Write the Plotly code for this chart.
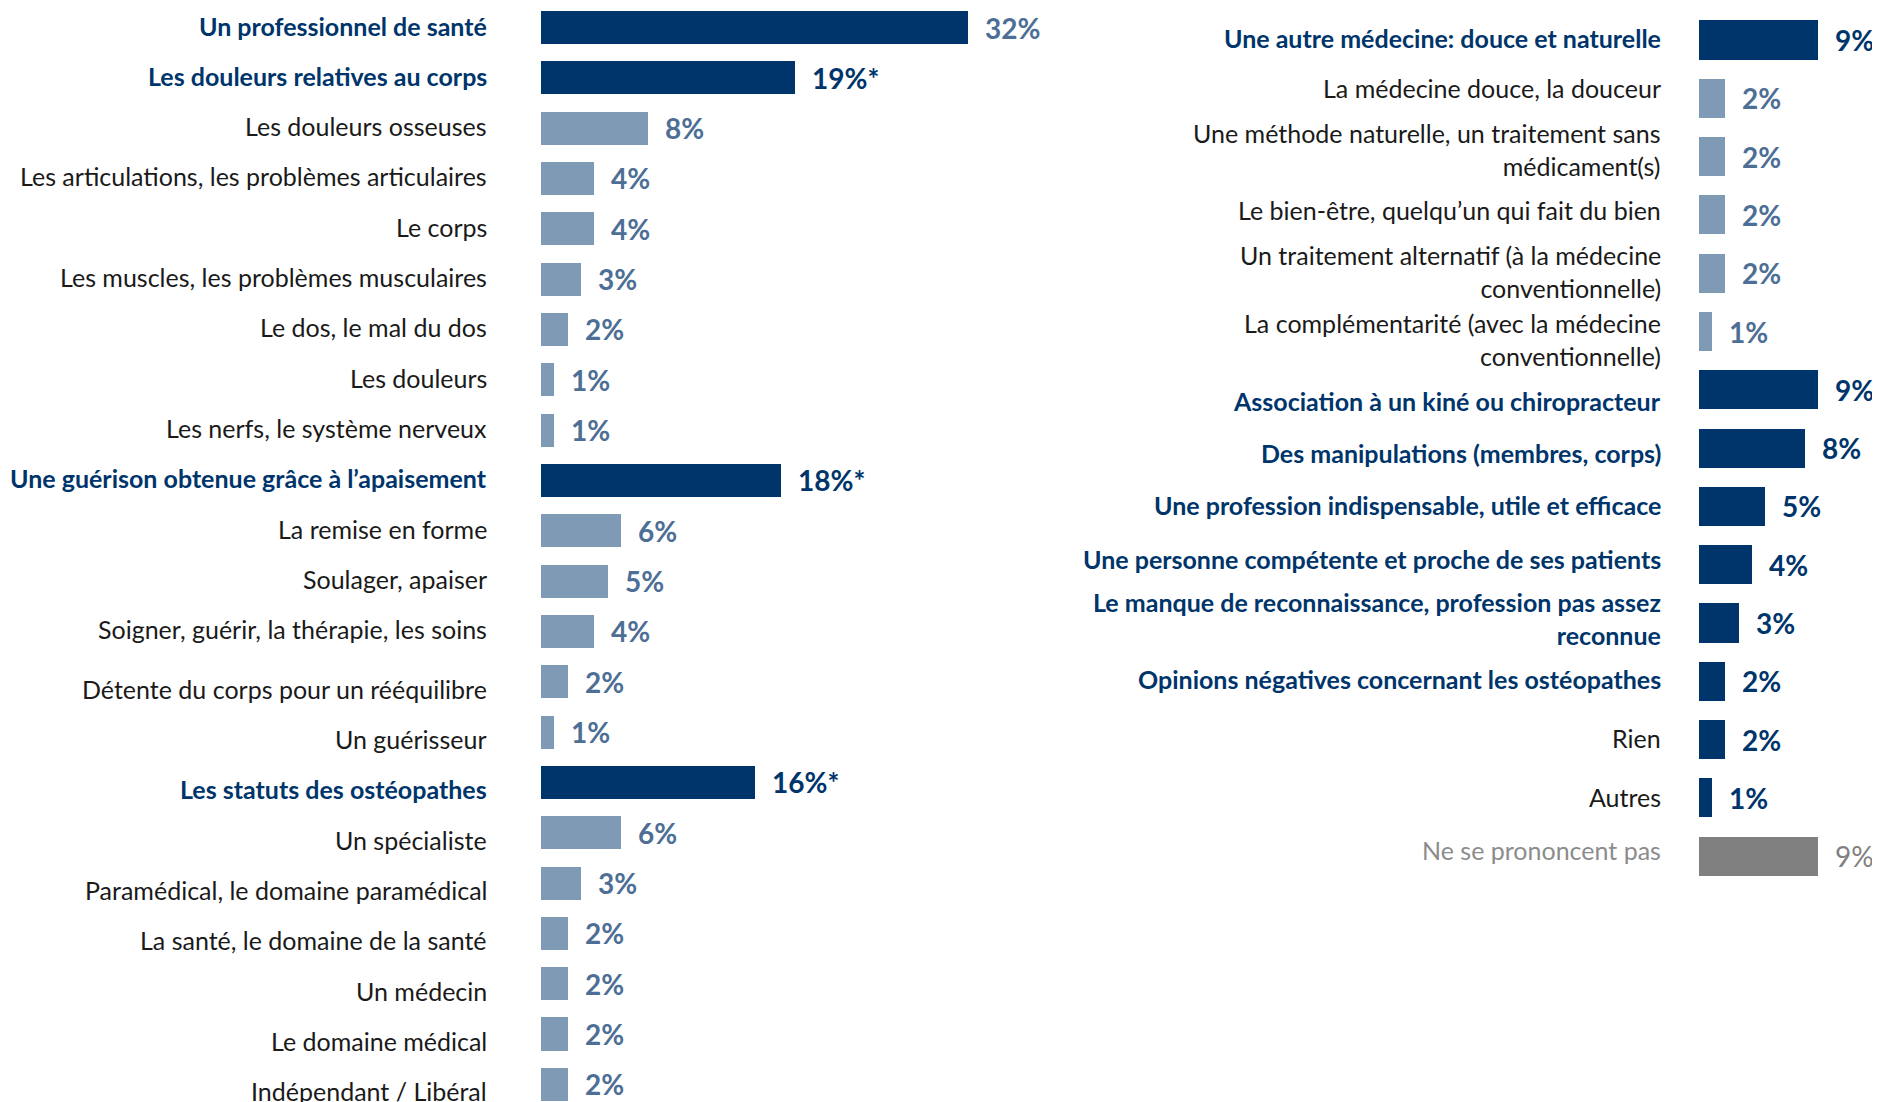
import plotly.graph_objects as go

# left panel
left_labels = [
    "Un professionnel de santé",
    "Les douleurs relatives au corps",
    "Les douleurs osseuses",
    "Les articulations, les problèmes articulaires",
    "Le corps",
    "Les muscles, les problèmes musculaires",
    "Le dos, le mal du dos",
    "Les douleurs",
    "Les nerfs, le système nerveux",
    "Une guérison obtenue grâce à l’apaisement",
    "La remise en forme",
    "Soulager, apaiser",
    "Soigner, guérir, la thérapie, les soins",
    "Détente du corps pour un rééquilibre",
    "Un guérisseur",
    "Les statuts des ostéopathes",
    "Un spécialiste",
    "Paramédical, le domaine paramédical",
    "La santé, le domaine de la santé",
    "Un médecin",
    "Le domaine médical",
    "Indépendant / Libéral",
]
left_values = [32, 19, 8, 4, 4, 3, 2, 1, 1, 18, 6, 5, 4, 2, 1, 16, 6, 3, 2, 2, 2, 2]
left_text = ["32%", "19%*", "8%", "4%", "4%", "3%", "2%", "1%", "1%", "18%*", "6%", "5%",
             "4%", "2%", "1%", "16%*", "6%", "3%", "2%", "2%", "2%", "2%"]
left_kind = ["main", "main", "sub", "sub", "sub", "sub", "sub", "sub", "sub", "main", "sub", "sub",
             "sub", "sub", "sub", "main", "sub", "sub", "sub", "sub", "sub", "sub"]

# right panel
right_labels = [
    "Une autre médecine: douce et naturelle",
    "La médecine douce, la douceur",
    "Une méthode naturelle, un traitement sans<br>médicament(s)",
    "Le bien-être, quelqu’un qui fait du bien",
    "Un traitement alternatif (à la médecine<br>conventionnelle)",
    "La complémentarité (avec la médecine<br>conventionnelle)",
    "Association à un kiné ou chiropracteur",
    "Des manipulations (membres, corps)",
    "Une profession indispensable, utile et efficace",
    "Une personne compétente et proche de ses patients",
    "Le manque de reconnaissance, profession pas assez<br>reconnue",
    "Opinions négatives concernant les ostéopathes",
    "Rien",
    "Autres",
    "Ne se prononcent pas",
]
right_values = [9, 2, 2, 2, 2, 1, 9, 8, 5, 4, 3, 2, 2, 1, 9]
right_text = ["9%", "2%", "2%", "2%", "2%", "1%", "9%", "8%", "5%", "4%", "3%", "2%", "2%", "1%", "9%"]
right_kind = ["main", "sub", "sub", "sub", "sub", "sub", "main", "main", "main", "main", "main", "main",
              "plain", "plain", "nsp"]

footnote = "* Score correspondant à un total logique de réponses"

# label nudges (px, + = down), as the labels sit in the original slide
left_dy = [-2] * 13 + [7] * 9
right_dy = [-2, -10, -7, -5, -2, 8, 11, 5, -1, -6, -5, -2, -2, -1, -6]

NAVY = "#00356B"
LIGHT = "#7F9AB5"
LIGHT_TXT = "#4D6E95"
GREY = "#808080"
BLACK = "#1a1a1a"

bar_col = {"main": NAVY, "sub": LIGHT, "plain": NAVY, "nsp": GREY}
val_col = {"main": NAVY, "sub": LIGHT_TXT, "plain": NAVY, "nsp": GREY}


def label_text(label, kind):
    if kind == "main":
        return "<b>%s</b>" % label
    return label


def label_col(kind):
    return {"main": NAVY, "nsp": "#8c8c8c"}.get(kind, BLACK)


fig = go.Figure()
fig.add_trace(go.Bar(
    x=left_values, y=left_labels, orientation="h",
    marker=dict(color=[bar_col[k] for k in left_kind], line=dict(width=0)),
    width=0.66, xaxis="x", yaxis="y", hoverinfo="skip",
))
fig.add_trace(go.Bar(
    x=right_values, y=right_labels, orientation="h",
    marker=dict(color=[bar_col[k] for k in right_kind], line=dict(width=0)),
    width=0.67, xaxis="x2", yaxis="y2", hoverinfo="skip",
))

ann = []
for v, lab, t, k, dy in zip(left_values, left_labels, left_text, left_kind, left_dy):
    c = LIGHT_TXT if t == "32%" else val_col[k]
    ann.append(dict(x=v, y=lab, xref="x", yref="y", text="<b>%s</b>" % t, showarrow=False,
                    xanchor="left", xshift=15, font=dict(size=28, color=c)))
    ann.append(dict(x=0, y=lab, xref="x", yref="y", text=label_text(lab, k), showarrow=False,
                    xanchor="right", align="right", xshift=-52, yshift=-dy,
                    font=dict(size=25, color=label_col(k))))
for v, lab, t, k, dy in zip(right_values, right_labels, right_text, right_kind, right_dy):
    ann.append(dict(x=v, y=lab, xref="x2", yref="y2",
                    text=t if k == "nsp" else "<b>%s</b>" % t, showarrow=False,
                    xanchor="left", xshift=15, font=dict(size=28, color=val_col[k])))
    ann.append(dict(x=0, y=lab, xref="x2", yref="y2", text=label_text(lab, k), showarrow=False,
                    xanchor="right", align="right", xshift=-36, yshift=-dy,
                    font=dict(size=25, color=label_col(k))))

W, H = 1880, 1102
OFF = 8  # page body margin
ann.append(dict(x=(1034 - OFF) / W, y=1 - (1097 - OFF) / H, xref="paper", yref="paper", text=footnote,
                showarrow=False, xanchor="left", yanchor="top", font=dict(size=20, color=BLACK)))

fig.update_layout(
    width=W, height=H,
    margin=dict(l=0, r=0, t=0, b=0),
    plot_bgcolor="white", paper_bgcolor="white",
    showlegend=False,
    font=dict(family="Lato", size=25, color=BLACK),
    bargap=0,
    annotations=ann,
    xaxis=dict(domain=[(541 - OFF) / W, (541 - OFF + 35 * 13.35) / W], range=[0, 35],
               visible=False, fixedrange=True),
    xaxis2=dict(domain=[(1699 - OFF) / W, (1699 - OFF + 12 * 13.2) / W], range=[0, 12],
                visible=False, fixedrange=True),
    yaxis=dict(
        anchor="x", domain=[0, 1],
        range=[(H - 27.5 + OFF) / 50.33, -(27.5 - OFF) / 50.33],
        showticklabels=False, showgrid=False, zeroline=False, showline=False, fixedrange=True,
    ),
    yaxis2=dict(
        anchor="x2", domain=[0, 1],
        range=[(H - 40 + OFF) / 58.3, -(40 - OFF) / 58.3],
        showticklabels=False, showgrid=False, zeroline=False, showline=False, fixedrange=True,
    ),
)

fig.write_html("out.html")
